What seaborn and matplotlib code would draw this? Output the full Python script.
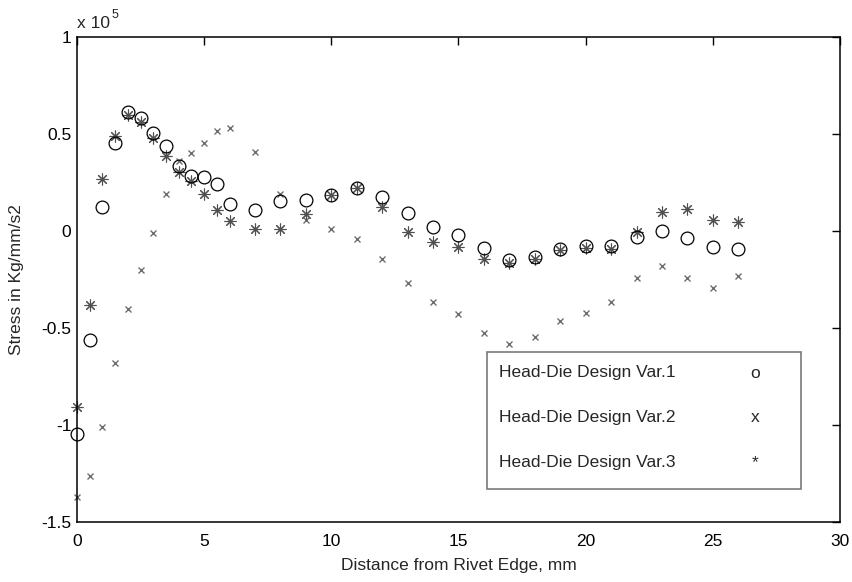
import matplotlib
matplotlib.use("Agg")
import matplotlib.pyplot as plt
from matplotlib.patches import Rectangle
import numpy as np
import pandas as pd
import seaborn as sns

# Distance from rivet edge (mm)
distance = [0, 0.5, 1, 1.5, 2, 2.5, 3, 3.5, 4, 4.5, 5, 5.5, 6,
            7, 8, 9, 10, 11, 12, 13, 14, 15, 16, 17, 18, 19, 20,
            21, 22, 23, 24, 25, 26]

# Stress in units of 1e5 Kg/mm/s2
stress_var1 = [-1.048, -0.562, 0.122, 0.452, 0.612, 0.584, 0.504, 0.438, 0.337,
               0.285, 0.277, 0.242, 0.139, 0.108, 0.153, 0.160, 0.186, 0.220,
               0.177, 0.094, 0.019, -0.022, -0.088, -0.149, -0.136, -0.091,
               -0.075, -0.077, -0.029, 0.000, -0.034, -0.081, -0.094]
stress_var2 = [-1.369, -1.261, -1.012, -0.682, -0.404, -0.201, -0.009, 0.189, 0.360,
               0.404, 0.452, 0.517, 0.529, 0.406, 0.191, 0.055, 0.010, -0.040,
               -0.143, -0.266, -0.364, -0.428, -0.524, -0.582, -0.545, -0.462,
               -0.424, -0.368, -0.244, -0.179, -0.244, -0.296, -0.230]
stress_var3 = [-0.909, -0.381, 0.268, 0.491, 0.598, 0.560, 0.481, 0.387, 0.306,
               0.258, 0.189, 0.108, 0.052, 0.012, 0.012, 0.086, 0.183, 0.222,
               0.122, -0.005, -0.055, -0.081, -0.146, -0.163, -0.146, -0.098,
               -0.089, -0.094, -0.007, 0.100, 0.113, 0.057, 0.048]

legend_labels = ["Head-Die Design Var.1", "Head-Die Design Var.2", "Head-Die Design Var.3"]
legend_symbols = ["o", "x", "*"]

xticks = [0, 5, 10, 15, 20, 25, 30]
yticks = [-1.5, -1, -0.5, 0, 0.5, 1]
ytick_labels = ["-1.5", "-1", "-0.5", "0", "0.5", "1"]

W, H = 853, 582
sns.set_style("white")
plt.rcParams["font.family"] = ["Liberation Sans", "DejaVu Sans"]
FS = 12.5

fig = plt.figure(figsize=(W / 100, H / 100), dpi=100)
ax = fig.add_axes([77 / W, 1 - 522 / H, (840 - 77) / W, (522 - 37) / H])

df = pd.DataFrame({"d": distance, "v1": stress_var1, "v2": stress_var2, "v3": stress_var3})

sns.lineplot(data=df, x="d", y="v2", ax=ax, estimator=None, sort=False,
             linestyle="none", marker="x", markersize=4.8, mew=1.0,
             color="#6e6e6e", mec="#6e6e6e", clip_on=False)
sns.lineplot(data=df, x="d", y="v3", ax=ax, estimator=None, sort=False,
             linestyle="none", marker=(8, 2, 0), markersize=8.5, mew=0.8,
             color="#505050", mec="#505050", clip_on=False)
sns.lineplot(data=df, x="d", y="v1", ax=ax, estimator=None, sort=False,
             linestyle="none", marker="o", markersize=9.2, mew=0.9,
             color="black", mec="black", mfc="none", clip_on=False)

ax.set_xlim(0, 30)
ax.set_ylim(-1.5, 1)
ax.set_xticks(xticks)
ax.set_xticklabels([str(t) for t in xticks])
ax.set_yticks(yticks)
ax.set_yticklabels(ytick_labels)
ax.tick_params(direction="in", length=5.5, width=1.0, top=True, right=True,
               labelsize=FS, colors="black")
ax.tick_params(axis="x", pad=8.5)
ax.tick_params(axis="y", pad=4)
for s in ax.spines.values():
    s.set_visible(True)
    s.set_color("black")
    s.set_linewidth(1.1)

ax.set_xlabel("Distance from Rivet Edge, mm", fontsize=FS)
ax.set_ylabel("Stress in Kg/mm/s2", fontsize=FS)
ax.xaxis.set_label_coords(0.5, -0.074)
ax.yaxis.set_label_coords(-0.07, 0.5)

# Exponent multiplier above the y axis
fig.text(77 / W, 1 - 28.5 / H, "x 10", fontsize=FS, va="baseline", ha="left")
fig.text(112 / W, 1 - 18 / H, "5", fontsize=9, va="baseline", ha="left")

# Text legend box
box = Rectangle((487.5 / W, 1 - 489 / H), (801 - 487.5) / W, (489 - 351.5) / H,
                transform=fig.transFigure, fill=False, edgecolor="#7a7a7a",
                linewidth=1.2, zorder=5)
fig.add_artist(box)
for i, (lab, sym) in enumerate(zip(legend_labels, legend_symbols)):
    yc = 373 + i * 44.8
    fig.text(499 / W, 1 - yc / H, lab, fontsize=FS, va="center", ha="left")
    fig.text(755 / W, 1 - yc / H, sym, fontsize=FS, va="center", ha="center")

fig.savefig("out.png", dpi=100)
